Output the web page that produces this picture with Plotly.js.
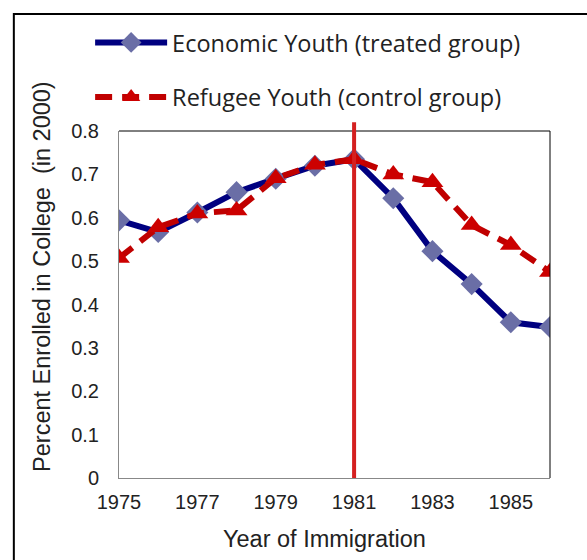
<!DOCTYPE html>
<html><head><meta charset="utf-8">
<script src="https://cdn.plot.ly/plotly-3.0.1.min.js"></script>
<style>html,body{margin:0;padding:0;background:#fff}#chart{width:587px;height:560px}</style>
</head><body><div id="chart"></div>
<script>
const years = [1975,1976,1977,1978,1979,1980,1981,1982,1983,1984,1985,1986];
const economic = [0.594,0.567,0.612,0.659,0.690,0.720,0.735,0.645,0.523,0.447,0.359,0.348];
const refugee  = [0.507,0.578,0.610,0.617,0.691,0.722,0.735,0.700,0.682,0.583,0.537,0.475];
const seriesNames = ["Economic Youth (treated group)", "Refugee Youth (control group)"];
const cutoffYear = 1981;
const xTicks = [1975,1977,1979,1981,1983,1985];
const yTicks = [0,0.1,0.2,0.3,0.4,0.5,0.6,0.7,0.8];
const xTitle = "Year of Immigration";
const yTitle = "Percent Enrolled in College  (in 2000)";

const traces = [
  {x: years, y: economic, name: seriesNames[0], legendgroup: 'a', type: 'scatter', mode: 'lines+markers',
   line: {color: '#000080', width: 6},
   marker: {symbol: 'diamond', size: 17, color: '#6a6ea6'}},
  {x: years, y: refugee, name: seriesNames[1], legendgroup: 'b', type: 'scatter', mode: 'lines+markers',
   line: {color: '#c00000', width: 6, dash: '17px,10px'},
   marker: {symbol: 'triangle-up', size: 19, color: '#cc0000'}}
];

const tickFont = {family: 'Liberation Sans, Arial, sans-serif', size: 20, color: '#222'};
const layout = {
  width: 587, height: 560,
  margin: {l: 119, r: 37, t: 131, b: 82},
  paper_bgcolor: '#fff', plot_bgcolor: '#fff',
  font: {family: 'Liberation Sans, Arial, sans-serif', color: '#222'},
  showlegend: true,
  legend: {x: -0.067, y: 1.318, xanchor: 'left', yanchor: 'top', orientation: 'v',
    font: {family: 'Open Sans, sans-serif', size: 23.5, color: '#222'},
    itemwidth: 72, tracegroupgap: 21, bgcolor: 'rgba(0,0,0,0)'},
  xaxis: {range: [1975, 1986], tickvals: xTicks, ticktext: xTicks.map(String),
    showgrid: false, zeroline: false, showline: true, linecolor: '#888', linewidth: 1,
    ticks: 'outside', tickcolor: 'rgba(0,0,0,0)', ticklen: 6, tickfont: tickFont},
  yaxis: {range: [0, 0.8], tickvals: yTicks, ticktext: yTicks.map(v => v === 0 ? '0' : v.toFixed(1)),
    showgrid: false, zeroline: false, showline: true, linecolor: '#888', linewidth: 1,
    ticks: 'outside', tickcolor: 'rgba(0,0,0,0)', ticklen: 15, tickfont: tickFont},
  annotations: [
    {text: xTitle, xref: 'paper', yref: 'paper', x: 0.476, y: -0.176, xanchor: 'center', yanchor: 'middle',
     showarrow: false, font: {size: 23.5, color: '#222'}},
    {text: yTitle, xref: 'paper', yref: 'paper', x: -0.179, y: 0.582, xanchor: 'center', yanchor: 'middle',
     textangle: -90, showarrow: false, font: {size: 23.5, color: '#222'}}
  ],
  shapes: [
    {type: 'line', xref: 'paper', yref: 'paper', x0: 0, x1: 1, y0: 1, y1: 1, line: {color: '#000', width: 1}},
    {type: 'line', xref: 'paper', yref: 'paper', x0: 1, x1: 1, y0: 0, y1: 1, line: {color: '#000', width: 1}},
    {type: 'line', xref: 'x', yref: 'paper', x0: cutoffYear, x1: cutoffYear, y0: 0, y1: 1.025, line: {color: '#d42020', width: 4}},
    {type: 'rect', xref: 'paper', yref: 'paper', x0: -0.244, x1: 1.2, y0: -0.3, y1: 1.337, line: {color: '#000', width: 2}, fillcolor: 'rgba(0,0,0,0)'}
  ]
};
Plotly.newPlot('chart', traces, layout, {displayModeBar: false, staticPlot: true});
</script></body></html>
